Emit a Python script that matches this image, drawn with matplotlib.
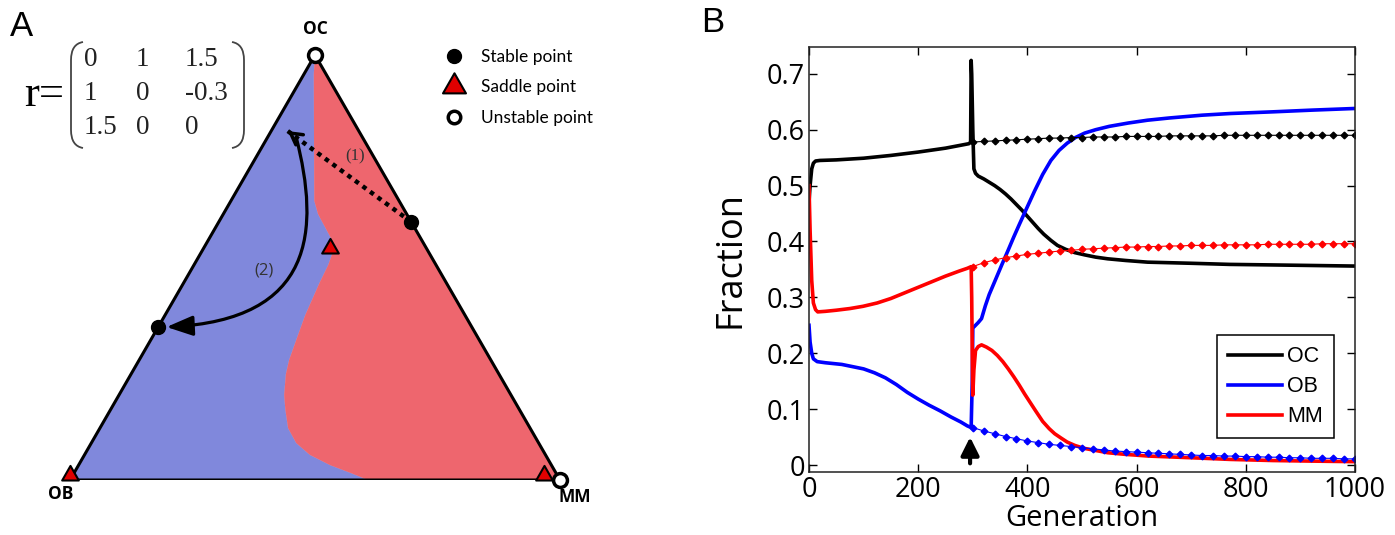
import numpy as np
import matplotlib
matplotlib.use("Agg")
import matplotlib.pyplot as plt
from matplotlib.path import Path
from matplotlib.patches import PathPatch, Polygon, FancyArrowPatch
from matplotlib.lines import Line2D

# ---- Panel A: payoff matrix and fixed points (fractions OC, MM; OB = rest)
matrix_rows = [["0", "1", "1.5"],
               ["1", "0", "-0.3"],
               ["1.5", "0", "0"]]

stable_oc = [0.607, 0.36]
stable_mm = [0.393, 0.0]
saddle_oc = [0.534, 0.0, 0.0]
saddle_mm = [0.264, 0.0, 0.967]
unstable_oc = [1.0, 0.0]
unstable_mm = [0.0, 1.0]

# basin boundary, from OC vertex down to OB-MM edge
bnd_oc = [1.0, 0.955, 0.798, 0.657, 0.626, 0.600, 0.565, 0.532, 0.506, 0.466, 0.388, 0.329, 0.282,
          0.249, 0.200, 0.165, 0.122, 0.087, 0.059, 0.035, 0.017, 0.0]
bnd_mm = [0.0, 0.020, 0.099, 0.170, 0.193, 0.218, 0.252, 0.269, 0.274, 0.277, 0.286, 0.297, 0.306,
          0.316, 0.337, 0.357, 0.384, 0.418, 0.460, 0.513, 0.563, 0.608]

# trajectory (1): stable point -> after perturbation
traj1_oc = [0.607, 0.821]
traj1_mm = [0.393, 0.034]
# trajectory (2): bezier control points
traj2_oc = [0.807, 0.588, 0.376, 0.36]
traj2_mm = [0.058, 0.216, 0.312, 0.017]

# ---- Panel B: simulation
oc_gen = [0, 2, 5, 8, 12, 20, 50, 100, 150, 200, 250, 293, 296, 297, 298, 300, 302, 305, 310, 320, 330,
          340, 350, 360, 370, 380, 390, 400, 410, 420, 430, 443, 455, 470, 487, 505, 525, 547, 580, 620,
          700, 770, 850, 1000]
oc_val = [0.47, 0.50, 0.53, 0.540, 0.544, 0.545, 0.546, 0.549, 0.554, 0.560, 0.567, 0.575, 0.578, 0.724,
          0.70, 0.60, 0.53, 0.522, 0.517, 0.512, 0.506, 0.500, 0.493, 0.485, 0.476, 0.466, 0.456, 0.445,
          0.434, 0.423, 0.413, 0.402, 0.393, 0.386, 0.380, 0.376, 0.372, 0.369, 0.366, 0.363, 0.361,
          0.359, 0.358, 0.356]

ob_gen = [0, 2, 5, 8, 15, 30, 60, 80, 100, 120, 140, 160, 180, 200, 220, 240, 260, 278, 290, 297, 299,
          300, 305, 310, 316, 323, 330, 340, 353, 365, 375, 385, 398, 413, 428, 443, 458, 473, 488, 505,
          525, 550, 585, 620, 660, 720, 772, 850, 920, 1000]
ob_val = [0.25, 0.22, 0.20, 0.19, 0.185, 0.183, 0.180, 0.176, 0.172, 0.165, 0.156, 0.144, 0.130, 0.118,
          0.107, 0.097, 0.086, 0.077, 0.070, 0.067, 0.15, 0.245, 0.250, 0.255, 0.262, 0.285, 0.305, 0.328,
          0.358, 0.385, 0.408, 0.430, 0.458, 0.490, 0.520, 0.545, 0.563, 0.576, 0.586, 0.594, 0.600,
          0.606, 0.612, 0.617, 0.621, 0.626, 0.629, 0.632, 0.635, 0.638]

mm_gen = [0, 2, 5, 8, 12, 16, 30, 50, 75, 99, 125, 150, 175, 200, 225, 250, 275, 290, 297, 298, 299,
          300, 302, 305, 310, 316, 325, 335, 345, 355, 365, 375, 385, 395, 405, 415, 428, 440, 450, 462,
          473, 487, 503, 525, 547, 580, 622, 700, 772, 850, 920, 1000]
mm_val = [0.50, 0.42, 0.33, 0.29, 0.278, 0.274, 0.275, 0.277, 0.280, 0.284, 0.290, 0.298, 0.308, 0.318,
          0.328, 0.338, 0.347, 0.352, 0.355, 0.30, 0.20, 0.125, 0.17, 0.205, 0.212, 0.215, 0.211, 0.205,
          0.196, 0.185, 0.172, 0.158, 0.143, 0.127, 0.112, 0.097, 0.078, 0.065, 0.056, 0.048, 0.041,
          0.035, 0.030, 0.026, 0.022, 0.019, 0.016, 0.013, 0.010, 0.008, 0.007, 0.006]

# unperturbed continuation (every 20 generations)
dot_gen = list(range(300, 1001, 20))
oc_dot = [0.578, 0.579, 0.580, 0.581, 0.582, 0.583, 0.584, 0.585, 0.585, 0.586, 0.586, 0.587, 0.587, 0.587,
          0.588, 0.588, 0.588, 0.588, 0.589, 0.589, 0.589, 0.589, 0.589, 0.590, 0.590, 0.590, 0.590, 0.590,
          0.590, 0.590, 0.590, 0.590, 0.590, 0.590, 0.590, 0.590]
mm_dot = [0.355, 0.362, 0.367, 0.371, 0.374, 0.377, 0.379, 0.381, 0.383, 0.384, 0.386, 0.387, 0.388, 0.389,
          0.390, 0.390, 0.391, 0.391, 0.392, 0.392, 0.393, 0.393, 0.393, 0.394, 0.394, 0.394, 0.394, 0.395,
          0.395, 0.395, 0.395, 0.395, 0.396, 0.396, 0.396, 0.396]
ob_dot = [0.067, 0.061, 0.056, 0.051, 0.047, 0.043, 0.040, 0.037, 0.035, 0.033, 0.031, 0.029, 0.027, 0.025,
          0.024, 0.023, 0.022, 0.021, 0.020, 0.019, 0.018, 0.017, 0.017, 0.016, 0.016, 0.015, 0.015, 0.014,
          0.014, 0.013, 0.013, 0.012, 0.012, 0.012, 0.011, 0.011]

perturb_gen = 295

W, H = 1395, 535
SANS = ["Open Sans", "DejaVu Sans"]
CAL = ["Lato", "DejaVu Sans"]
SERIF = ["Liberation Serif", "DejaVu Serif"]
BLUE_REG = "#8088dc"
RED_REG = "#ee666e"


def box(l, t, r, b):
    return [l / W, 1 - b / H, (r - l) / W, (b - t) / H]


def tern(oc, mm):
    oc = np.asarray(oc, float)
    mm = np.asarray(mm, float)
    return mm + oc / 2, oc


fig = plt.figure(figsize=(W / 100, H / 100), dpi=100)

# overlay in pixel coords for matrix + panel letters
ov = fig.add_axes([0, 0, 1, 1])
ov.set_xlim(0, W)
ov.set_ylim(H, 0)
ov.axis("off")
ov.text(21, 26, "A", fontsize=25, family=["Liberation Sans"], ha="center", va="center")
ov.text(713, 22, "B", fontsize=25, family=["Liberation Sans"], ha="center", va="center")
ov.text(44, 95, "r=", fontsize=32, family=SERIF, ha="center", va="center")
col_x = [84, 136, 185]
row_y = [59, 94, 128]
for i, row in enumerate(matrix_rows):
    for j, s in enumerate(row):
        ov.text(col_x[j], row_y[i], s, fontsize=19.5, family=SERIF, ha="left", va="center", color="#222222")
lp = Path([(83, 42), (71, 44), (71, 60), (71, 130), (71, 146), (83, 148)],
          [Path.MOVETO, Path.CURVE3, Path.CURVE3, Path.LINETO, Path.CURVE3, Path.CURVE3])
rp = Path([(232, 42), (244, 44), (244, 60), (244, 130), (244, 146), (232, 148)],
          [Path.MOVETO, Path.CURVE3, Path.CURVE3, Path.LINETO, Path.CURVE3, Path.CURVE3])
for p in (lp, rp):
    ov.add_patch(PathPatch(p, fill=False, lw=1.3, ec="#444444"))

# ---------------- Panel A
axA = fig.add_axes(box(70, 55, 560, 480))
axA.set_xlim(0, 1)
axA.set_ylim(0, 1)
axA.axis("off")

bx, by = tern(bnd_oc, bnd_mm)
blue_poly = np.column_stack([np.r_[0.0, bx], np.r_[0.0, by]])
red_poly = np.column_stack([np.r_[1.0, bx[::-1]], np.r_[0.0, by[::-1]]])
axA.add_patch(Polygon(blue_poly, closed=True, fc=BLUE_REG, ec=BLUE_REG, lw=0.5, zorder=1))
axA.add_patch(Polygon(red_poly, closed=True, fc=RED_REG, ec="none", zorder=1))
axA.plot([0, 0.5, 1, 0], [0, 1, 0, 0], color="black", lw=2.2, zorder=3, solid_joinstyle="miter")

# trajectory (1) dotted + open head
t1x, t1y = tern(traj1_oc, traj1_mm)
axA.plot(t1x, t1y, color="black", lw=3.2, ls=(0, (1, 1.1)), zorder=4)
axA.annotate("", xy=(t1x[1], t1y[1]),
             xytext=(t1x[1] + 0.03 * (t1x[0] - t1x[1]), t1y[1] + 0.03 * (t1y[0] - t1y[1])),
             arrowprops=dict(arrowstyle="->,head_length=0.8,head_width=0.45", lw=2.5, color="black"),
             zorder=5)
axA.text(*tern(0.762, 0.201), "(1)", fontsize=12, family=SERIF, color="#333333", ha="center", va="center")

# trajectory (2) bezier curve with filled head
t2x, t2y = tern(traj2_oc, traj2_mm)
curve = Path(list(zip(t2x, t2y)), [Path.MOVETO, Path.CURVE4, Path.CURVE4, Path.CURVE4])
axA.add_patch(FancyArrowPatch(path=curve, arrowstyle="-|>,head_length=1.0,head_width=0.38",
                              mutation_scale=16, lw=2.3, color="black", zorder=5))
axA.text(*tern(0.494, 0.149), "(2)", fontsize=12, family=SANS, color="#333333", ha="center", va="center")

tri = Path([(-1, 0), (1, 0), (0, 1.75), (-1, 0)], [Path.MOVETO, Path.LINETO, Path.LINETO, Path.CLOSEPOLY])
sx, sy = tern(stable_oc, stable_mm)
axA.plot(sx, sy, "o", ms=10, color="black", zorder=6, clip_on=False)
dx, dy = tern(saddle_oc, saddle_mm)
axA.plot(dx, dy, ls="none", marker=tri, ms=21, mfc="#e00000", mec="black", mew=1.5, zorder=6, clip_on=False)
ux, uy = tern(unstable_oc, unstable_mm)
axA.plot(ux, uy, "o", ms=10, mfc="white", mec="black", mew=2.5, zorder=6, clip_on=False)

axA.text(0.5, 1.04, "OC", fontsize=12.5, fontweight="bold", family=SANS, ha="center", va="bottom")
axA.text(-0.02, -0.012, "OB", fontsize=12.5, fontweight="bold", family=SANS, ha="center", va="top")
axA.text(1.03, -0.02, "MM", fontsize=12.5, fontweight="bold", family=SANS, ha="center", va="top")

tri_c = Path([(-1, -0.6), (1, -0.6), (0, 1.15), (-1, -0.6)],
             [Path.MOVETO, Path.LINETO, Path.LINETO, Path.CLOSEPOLY])
handles = [Line2D([], [], ls="none", marker="o", ms=10, color="black"),
           Line2D([], [], ls="none", marker=tri_c, ms=19, mfc="#e00000", mec="black", mew=1.5),
           Line2D([], [], ls="none", marker="o", ms=9, mfc="white", mec="black", mew=2.5)]
axA.legend(handles, ["Stable point", "Saddle point", "Unstable point"], loc="upper left",
           bbox_to_anchor=(0.765, 1.015), frameon=False, handlelength=1.0, handletextpad=1.1,
           labelspacing=0.85, borderpad=0, borderaxespad=0, prop=dict(family=CAL, size=12.5))

# ---------------- Panel B
axB = fig.add_axes(box(809, 47, 1355, 472))
axB.plot(oc_gen, oc_val, color="black", lw=2.6, label="OC")
axB.plot(ob_gen, ob_val, color="#0000ff", lw=2.6, label="OB")
axB.plot(mm_gen, mm_val, color="#ff0000", lw=2.6, label="MM")
axB.plot(dot_gen, oc_dot, color="black", lw=0.8, marker="D", ms=3.4)
axB.plot(dot_gen, ob_dot, color="#0000ff", lw=0.8, marker="D", ms=3.4)
axB.plot(dot_gen, mm_dot, color="#ff0000", lw=0.8, marker="D", ms=3.4)
axB.annotate("", xy=(perturb_gen, 0.05), xytext=(perturb_gen, 0.003),
             arrowprops=dict(arrowstyle="-|>,head_length=0.6,head_width=0.3", lw=3, color="black",
                             mutation_scale=18, shrinkA=0, shrinkB=0))

axB.set_xlim(0, 1000)
axB.set_ylim(-0.0125, 0.748)
axB.set_xticks(range(0, 1001, 200))
axB.set_xticklabels([str(v) for v in range(0, 1001, 200)])
yt = [0, 0.1, 0.2, 0.3, 0.4, 0.5, 0.6, 0.7]
axB.set_yticks(yt)
axB.set_yticklabels(["0", "0.1", "0.2", "0.3", "0.4", "0.5", "0.6", "0.7"])
axB.tick_params(direction="in", top=True, right=True, length=6, width=1, labelsize=19.5, pad=3)
for lab in axB.get_xticklabels() + axB.get_yticklabels():
    lab.set_family(SANS)
for s in axB.spines.values():
    s.set_linewidth(1.1)
    s.set_color("#222222")
axB.set_ylabel("Fraction", fontsize=26, family=SANS)
axB.set_xlabel("Generation", fontsize=21, family=SANS)
axB.yaxis.set_label_coords(-0.11, 0.5)
axB.xaxis.set_label_coords(0.5, -0.075)

leg = axB.legend(loc="lower right", bbox_to_anchor=(0.9615, 0.08), borderaxespad=0, fancybox=False,
                 edgecolor="black", framealpha=1, handlelength=2.5, handletextpad=0.25, labelspacing=0.42,
                 borderpad=0.5, prop=dict(family=["Liberation Sans Narrow", "Liberation Sans"], size=15.5))
leg.get_frame().set_linewidth(1.1)

fig.savefig("out.png", dpi=100)
